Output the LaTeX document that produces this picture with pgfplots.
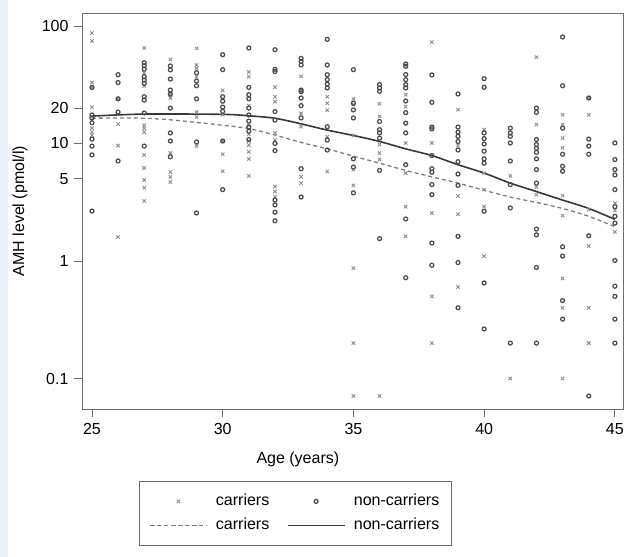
\documentclass[border=0pt]{standalone}
\usepackage{pgfplots}
\pgfplotsset{compat=1.18}
\usepackage{fontspec}
\setmainfont{Liberation Sans}
\definecolor{bgblue}{HTML}{E7EFF9}
\definecolor{carr}{HTML}{8C8C8C}
\definecolor{noncarr}{HTML}{4A4A4A}
\definecolor{axgray}{HTML}{6E6E6E}
\begin{document}
\begin{tikzpicture}
\fontsize{16}{19}\selectfont
\path[use as bounding box] (0,0) rectangle (624pt,557pt);
\fill[bgblue] (0,0) rectangle (8pt,557pt);
\begin{axis}[
  at={(82pt,148pt)}, anchor=south west,
  scale only axis, width=541pt, height=396pt,
  ymode=log,
  xmin=24.62, xmax=45.31,
  ymin=0.055, ymax=129,
  xtick={25,30,35,40,45},
  xticklabels={25,30,35,40,45},
  ytick={0.1,1,5,10,20,100},
  yticklabels={0.1,1,5,10,20,100},
  minor ytick={}, minor xtick={},
  tick pos=left, tick align=outside,
  major tick length=8pt,
  every tick/.style={axgray, line width=0.8pt},
  axis line style={axgray, line width=0.9pt},
  ticklabel style={font=\fontsize{16}{19}\selectfont},
  xticklabel style={yshift=-1pt},
  xlabel={Age (years)},
  ylabel={AMH level (pmol/l)},
  label style={font=\fontsize{16}{19}\selectfont},
  xlabel style={at={(axis description cs:0.399,-0.126)}, anchor=center},
  ylabel style={at={(axis description cs:-0.1146,0.5)}, anchor=center, rotate=0},
  legend columns=2,
  legend image code/.code={\draw[mark repeat=2,mark phase=2,#1] plot coordinates {(0pt,0pt)(28pt,0pt)(57pt,0pt)};},
  legend style={at={(axis description cs:0.3946,-0.1818)}, anchor=north,
    font=\fontsize{16}{19}\selectfont, draw=axgray, line width=0.8pt,
    inner xsep=10pt, inner ysep=11pt, row sep=6pt,
    /tikz/every odd column/.append style={column sep=6pt},
    /tikz/every even column/.append style={column sep=16pt},
    legend cell align=left},
]
\addplot[only marks, mark=x, mark size=2.4pt, carr, line width=0.9pt] coordinates {
(25,87)(25,74.5)(25,33)(25,30)(25,20.4)(25,13.5)(25,12.5)(25,11.8)
(26,24)(26,14.6)(26,9.6)(26,1.6)
(27,65)(27,40)(27,30.8)(27,14.3)(27,13.5)(27,12.5)(27,8.0)(27,6.2)(27,4.9)(27,4.2)(27,3.24)
(28,52)(28,26)(28,24.5)(28,8.3)(28,5.7)(28,5.2)(28,4.7)
(29,64.5)(29,46.6)(29,43.6)(29,37)(29,18.5)(29,16.8)(29,9.5)
(30,28.3)(30,17.6)(30,10.5)(30,8.1)(30,5.8)
(31,40.6)(31,37)(31,21)(31,14.3)(31,12)(31,10.5)(31,9.7)(31,8.5)(31,7.4)(31,5.3)
(32,30.2)(32,25)(32,22.7)(32,12.3)(32,10.7)(32,4.3)(32,3.9)(32,3.5)
(33,37.2)(33,18)(33,13.9)(33,5.2)(33,4.6)
(34,25)(34,22)(34,19.2)(34,11.4)(34,5.77)
(35,23.9)(35,21.4)(35,11.7)(35,6.0)(35,4.4)(35,0.87)(35,0.2)(35,0.071)
(36,21.8)(36,17)(36,9.8)(36,8.3)(36,7.3)(36,0.071)
(37,26)(37,20.6)(37,10.1)(37,5.6)(37,2.9)(37,1.62)
(38,72.8)(38,10.1)(38,2.56)(38,0.5)(38,0.2)
(39,19.4)(39,9.6)(39,3.58)(39,2.5)(39,0.6)
(40,13.1)(40,5.6)(40,4.05)(40,2.9)(40,1.1)
(41,5.3)(41,0.1)
(42,54.2)(42,14.5)(42,4.25)(42,3.67)
(43,17.6)(43,14.5)(43,11.1)(43,9.2)(43,3.6)(43,2.43)(43,0.71)(43,0.4)(43,0.1)
(44,24.4)(44,17.6)(44,2.74)(44,1.34)(44,0.4)(44,0.2)
(45,3.1)(45,2.7)(45,1.77)
};
\addlegendentry{carriers}
\addplot[only marks, mark=o, mark size=2pt, noncarr, line width=1.2pt] coordinates {
(25,30)(25,17.5)(25,16.5)(25,15)(25,10.9)(25,9.5)(25,8.0)(25,2.66)
(26,38.5)(26,33)(26,24)(26,18.5)(26,7.1)
(27,48.7)(27,45.9)(27,43)(27,37)(27,34.7)(27,32.5)(27,25)(27,23.4)(27,18.2)(27,9.5)
(28,45.7)(28,42.3)(28,35.4)(28,28.5)(28,26.3)(28,20)(28,12.3)(28,10.5)(28,7.7)
(29,40)(29,34)(29,31)(29,24)(29,10.3)(29,2.56)
(30,57)(30,42.5)(30,25)(30,22.9)(30,20.4)(30,18.8)(30,10.5)(30,4.05)
(31,65)(31,30)(31,26)(31,24)(31,20)(31,17.5)(31,15.5)(31,13.8)(31,12.7)(31,10.8)
(32,62.8)(32,42.8)(32,41)(32,18.7)(32,15.8)(32,10)(32,8.7)(32,3.3)(32,3.0)(32,2.6)(32,2.2)
(33,53)(33,50)(33,46.6)(33,28.5)(33,27.6)(33,24.4)(33,21)(33,16.5)(33,6.1)(33,3.5)
(34,77)(34,46.6)(34,38.5)(34,35)(34,32)(34,29.7)(34,13.9)(34,10.7)(34,8.8)
(35,42.5)(35,22)(35,19.3)(35,16.5)(35,7.4)(35,6.3)(35,3.8)
(36,31.7)(36,29.7)(36,27.8)(36,15.4)(36,13.1)(36,12.3)(36,11.1)(36,5.9)(36,1.55)
(37,47.5)(37,45.4)(37,38.6)(37,34.9)(37,31.7)(37,29.7)(37,23)(37,18.3)(37,14.9)(37,12.3)(37,6.6)(37,2.28)(37,0.72)
(38,38.3)(38,22.4)(38,13.8)(38,13.3)(38,7.9)(38,6.1)(38,5.7)(38,4.47)(38,3.67)(38,1.42)(38,0.92)
(39,26.4)(39,13.8)(39,12.5)(39,11.5)(39,10.4)(39,8.8)(39,7.0)(39,5.5)(39,4.4)(39,1.62)(39,0.97)(39,0.4)
(40,35.6)(40,30.1)(40,12.3)(40,11)(40,9.9)(40,8.6)(40,7.4)(40,6.8)(40,2.65)(40,0.65)(40,0.264)
(41,13.5)(41,12.3)(41,11.5)(41,10.1)(41,7.1)(41,4.47)(41,2.83)(41,0.2)
(42,20)(42,18.4)(42,10.8)(42,9.8)(42,9.1)(42,8.4)(42,7.4)(42,6.0)(42,4.6)(42,1.87)(42,1.67)(42,0.88)(42,0.2)
(43,80.6)(43,31)(43,13.5)(43,8.1)(43,6.4)(43,5.8)(43,1.32)(43,1.1)(43,0.46)(43,0.32)
(44,24.4)(44,10.9)(44,9.5)(44,8.1)(44,1.64)(44,0.071)
(45,10.1)(45,7.3)(45,6.0)(45,5.4)(45,4.05)(45,2.9)(45,2.4)(45,2.1)(45,1.01)(45,0.61)(45,0.5)(45,0.32)(45,0.2)
};
\addlegendentry{non-carriers}
\addplot[no marks, color=carr!90!black, line width=1.3pt, dash pattern=on 4pt off 3pt, smooth] coordinates {
(25,16.4)(26,16.5)(27,16.4)(28,15.9)(29,15.1)(30,14.3)(31,13.4)(32,11.8)(33,10.2)(34,9.0)(35,7.8)(36,6.8)(37,5.9)(38,5.2)(39,4.6)(40,4.0)(41,3.5)(42,3.15)(43,2.8)(44,2.4)(45,1.96)
};
\addlegendentry{carriers}
\addplot[no marks, color=black!78, line width=1.6pt, smooth] coordinates {
(25,17.1)(27,17.8)(30,17.7)(31,17.2)(32,16.4)(33,14.7)(34,13.0)(35,11.7)(36,10.4)(37,9.0)(38,7.9)(39,6.6)(40,5.6)(41,4.6)(42,3.9)(43,3.3)(44,2.8)(45,2.26)
};
\addlegendentry{non-carriers}
\end{axis}
\end{tikzpicture}
\end{document}
